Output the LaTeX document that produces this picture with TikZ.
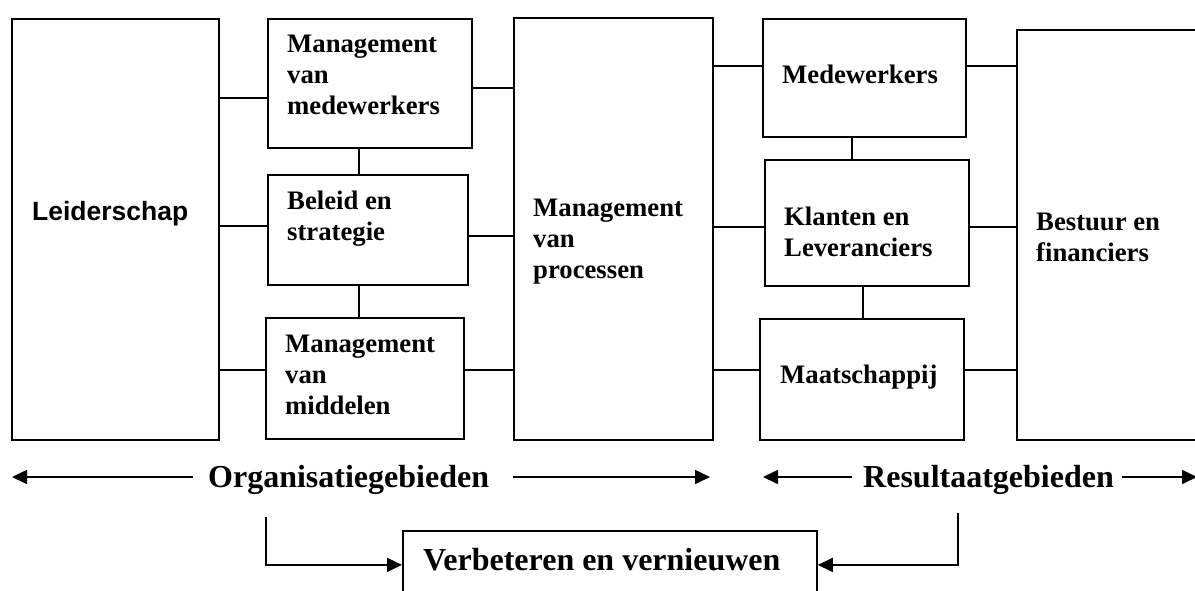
\documentclass[tikz,border=0pt]{standalone}
\usepackage{fontspec}
\setmainfont{Liberation Serif}
\newfontfamily\arialfont{Liberation Sans}
\usetikzlibrary{calc}
\usetikzlibrary{arrows.meta}

\tikzset{
  blok/.style={draw, line width=1.8pt, inner sep=0pt, anchor=north west},
  tekst/.style={anchor=base west, inner sep=0pt, align=left, font=\bfseries\fontsize{26.7}{30.6}\selectfont},
  groot/.style={anchor=base west, inner sep=0pt, font=\bfseries\fontsize{32}{36}\selectfont},
  lijn/.style={line width=1.6pt},
  pijl/.style={line width=1.6pt, -{Triangle[length=15pt,width=14pt]}},
}

\begin{document}
\begin{tikzpicture}[x=1pt, y=-1pt]
\useasboundingbox (0,0) rectangle (1195,590);
\clip (0,0) rectangle (1195,590);

% organisatiegebieden
\node[blok, minimum width=207pt, minimum height=421pt] (leid) at (11,18) {};
\node[blok, minimum width=204pt, minimum height=129pt] (mvm) at (267,18) {};
\node[blok, minimum width=200pt, minimum height=110pt] (beleid) at (267,174) {};
\node[blok, minimum width=198pt, minimum height=121pt] (midd) at (265,317) {};
\node[blok, minimum width=199pt, minimum height=422pt] (proc) at (513,17) {};

% resultaatgebieden
\node[blok, minimum width=203pt, minimum height=118pt] (mede) at (762,18) {};
\node[blok, minimum width=204pt, minimum height=126pt] (klant) at (764,159) {};
\node[blok, minimum width=204pt, minimum height=121pt] (maat) at (759,318) {};
\node[blok, minimum width=220pt, minimum height=410pt] (best) at (1016,29) {};

\node[blok, minimum width=414pt, minimum height=68pt] (verb) at (402,530) {};

% teksten (basislijn van de laatste regel)
\node[tekst, font=\arialfont\bfseries\fontsize{26.5}{30}\selectfont] (leidT) at (32,220) {Leiderschap};
\node[tekst] (mvmT) at (287,114) {Management\\van\\medewerkers};
\node[tekst] (belT) at (287,240) {Beleid en\\strategie};
\node[tekst] (midT) at (285,414) {Management\\van\\middelen};
\node[tekst] (procT) at (533,278) {Management\\van\\processen};
\node[tekst] (medeT) at (782,83) {Medewerkers};
\node[tekst] (klantT) at (784,256) {Klanten en\\Leveranciers};
\node[tekst] (maatT) at (780,383) {Maatschappij};
\node[tekst] (bestT) at (1036,261) {Bestuur en\\financiers};

\node[groot] (org) at (208,487) {Organisatiegebieden};
\node[groot] (res) at (863,487) {Resultaatgebieden};
\node[groot] (verbT) at (423,570) {Verbeteren en vernieuwen};

% verbindingen links
\draw[lijn] (leid.east |- 0,98) -- (mvm.west |- 0,98);
\draw[lijn] (leid.east |- 0,226) -- (beleid.west |- 0,226);
\draw[lijn] (leid.east |- 0,370) -- (midd.west |- 0,370);
\draw[lijn] (mvm.east |- 0,88) -- (proc.west |- 0,88);
\draw[lijn] (beleid.east |- 0,236) -- (proc.west |- 0,236);
\draw[lijn] (midd.east |- 0,370) -- (proc.west |- 0,370);
\draw[lijn] (359,0 |- mvm.south) -- (359,0 |- beleid.north);
\draw[lijn] (359,0 |- beleid.south) -- (359,0 |- midd.north);

% verbindingen rechts
\draw[lijn] (proc.east |- 0,66) -- (mede.west |- 0,66);
\draw[lijn] (proc.east |- 0,227) -- (klant.west |- 0,227);
\draw[lijn] (proc.east |- 0,370) -- (maat.west |- 0,370);
\draw[lijn] (mede.east |- 0,66) -- (best.west |- 0,66);
\draw[lijn] (klant.east |- 0,227) -- (best.west |- 0,227);
\draw[lijn] (maat.east |- 0,370) -- (best.west |- 0,370);
\draw[lijn] (852,0 |- mede.south) -- (852,0 |- klant.north);
\draw[lijn] (863,0 |- klant.south) -- (863,0 |- maat.north);

% pijlen
\coordinate (orgL) at (12,477);
\coordinate (orgR) at (710,477);
\coordinate (resL) at (763,477);
\coordinate (resR) at (1197,477);
\draw[pijl] ([xshift=-15pt]org.west |- orgL) -- (orgL);
\draw[pijl] ([xshift=24pt]org.east |- orgR) -- (orgR);
\draw[pijl] ([xshift=-11pt]res.west |- resL) -- (resL);
\draw[pijl] ([xshift=8pt]res.east |- resR) -- (resR);

\coordinate (orgO) at (266,517);
\coordinate (resO) at (958,513);
\draw[pijl] (orgO) |- (verb.west);
\draw[pijl] (resO) |- (verb.east);

\end{tikzpicture}
\end{document}
